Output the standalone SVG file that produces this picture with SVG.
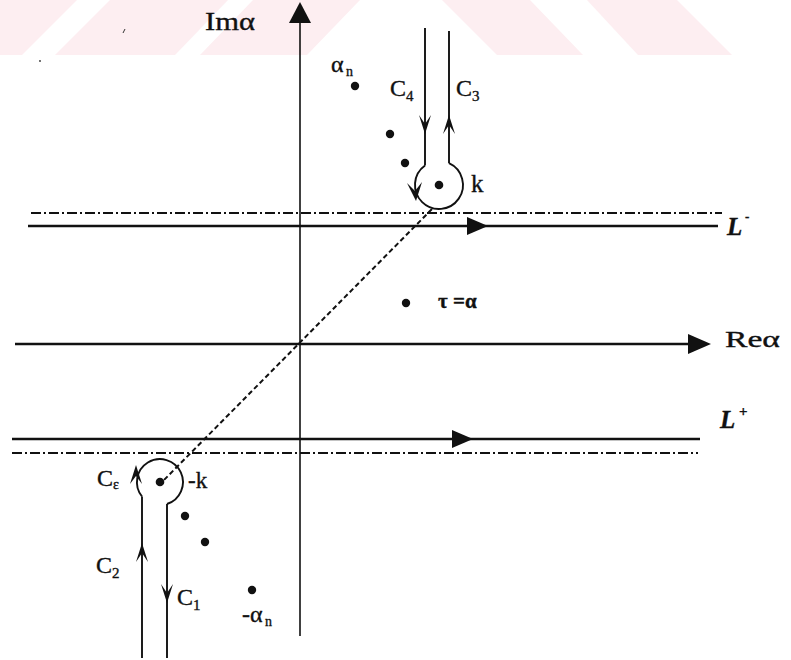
<svg xmlns="http://www.w3.org/2000/svg" width="791" height="660" viewBox="0 0 791 660">
<style>
.t{font-family:"Liberation Serif","Times New Roman",serif;fill:#111;stroke:#111;stroke-width:0.35;}
.ax{stroke:#111;stroke-width:1.6;fill:none;}
.thick{stroke:#111;stroke-width:2.6;fill:none;}
.dd{stroke:#111;stroke-width:2;fill:none;stroke-dasharray:10 3 2 3;}
.dash{stroke:#111;stroke-width:2;fill:none;stroke-dasharray:5 3;}
.c{stroke:#111;stroke-width:1.9;fill:none;}
.ah{fill:#111;stroke:none;}
.pt{fill:#111;}
.wm{fill:#fdeef1;}
</style>
<rect width="791" height="660" fill="#fff"/>
<g id="watermark">
<polygon class="wm" points="0,0 77,0 22,55 0,55"/>
<polygon class="wm" points="110,0 228,0 175,55 55,55"/>
<polygon class="wm" points="253,0 360,0 307,55 200,55"/>
<polygon class="wm" points="442,0 530,0 583,55 497,55"/>
<polygon class="wm" points="587,0 677,0 732,55 638,55"/>
<path d="M123,33 l2,-4" stroke="#333" stroke-width="1"/>
<circle cx="40" cy="61" r="0.9" fill="#333"/>
</g>
<g id="connectors">
<!-- imaginary axis -->
<line class="ax" x1="300" y1="20" x2="300" y2="636"/>
<polygon class="ah" points="300,2 289,23 311,23"/>
<!-- real axis -->
<line class="thick" x1="15" y1="344" x2="692" y2="344"/>
<polygon class="ah" points="711,344 688,334 688,354"/>
<!-- L- -->
<line class="dd" x1="31" y1="213" x2="722" y2="213"/>
<line class="thick" x1="28" y1="226" x2="718" y2="226"/>
<polygon class="ah" points="488,226 467,217 467,235"/>
<!-- L+ -->
<line class="thick" x1="12" y1="439" x2="700" y2="439"/>
<polygon class="ah" points="473,439 452,430 452,448"/>
<line class="dd" x1="12" y1="453" x2="698" y2="453"/>
<!-- dashed line through origin -->
<line class="dash" x1="432" y1="209" x2="162" y2="482"/>
<!-- upper contour C4, C3 around k -->
<line class="c" x1="425" y1="28" x2="425" y2="165.5"/>
<line class="c" x1="449" y1="31" x2="449" y2="163.2"/>
<path class="c" d="M425,165.5 A24,24 0 1 0 449,163.2"/>
<path class="ah" d="M425,134 L419,115 L425,124 L431,115 Z"/>
<path class="ah" d="M449,115 L443,134 L449,125 L455,134 Z"/>
<path class="ah" d="M416,201 L407,183 L415,191 L422,182 Z"/>
<!-- lower contour C2, C1 around -k -->
<line class="c" x1="142" y1="496.5" x2="142" y2="658"/>
<line class="c" x1="167" y1="504" x2="167" y2="658"/>
<path class="c" d="M142,496.5 A23,23 0 1 1 167,504"/>
<path class="ah" d="M142,543 L136,562 L142,553 L148,562 Z"/>
<path class="ah" d="M167,603 L161,584 L167,593 L173,584 Z"/>
<path class="ah" d="M136,465 L130,484 L136,476 L142,484 Z"/>
</g>
<g id="node-axes-labels">
<text class="t" x="205" y="30" font-size="25" textLength="50" lengthAdjust="spacingAndGlyphs">Imα</text>
<text class="t" x="725" y="347" font-size="24" textLength="55" lengthAdjust="spacingAndGlyphs">Reα</text>
</g>
<g id="node-Lminus">
<text class="t" x="727" y="235" font-size="25" font-style="italic" font-weight="bold">L</text>
<text class="t" x="745" y="221" font-size="13" font-weight="bold">-</text>
</g>
<g id="node-Lplus">
<text class="t" x="720" y="428" font-size="25" font-style="italic" font-weight="bold">L</text>
<text class="t" x="739" y="416" font-size="15" font-weight="bold">+</text>
</g>
<g id="node-k">
<circle class="pt" cx="439" cy="185" r="4.3"/>
<text class="t" x="471" y="192" font-size="25">k</text>
</g>
<g id="node-minus-k">
<circle class="pt" cx="160" cy="482" r="4.3"/>
<text class="t" x="188" y="488" font-size="23">-k</text>
</g>
<g id="node-alpha-n">
<circle class="pt" cx="355" cy="86" r="4.2"/>
<text class="t" x="331" y="72" font-size="24">α</text>
<text class="t" x="346" y="76" font-size="14">n</text>
</g>
<g id="node-upper-dots">
<circle class="pt" cx="390" cy="134" r="4.2"/>
<circle class="pt" cx="405" cy="163" r="4.2"/>
</g>
<g id="node-tau">
<circle class="pt" cx="406" cy="303" r="4.2"/>
<text class="t" x="438" y="308" font-size="21" font-weight="bold">τ =α</text>
</g>
<g id="node-lower-dots">
<circle class="pt" cx="185" cy="516" r="4.2"/>
<circle class="pt" cx="205" cy="542" r="4.2"/>
</g>
<g id="node-minus-alpha-n">
<circle class="pt" cx="252" cy="590" r="4.2"/>
<text class="t" x="242" y="622" font-size="24">-α</text>
<text class="t" x="265" y="626" font-size="14">n</text>
</g>
<g id="node-C-labels">
<text class="t" x="390" y="96" font-size="24">C</text><text class="t" x="406" y="101" font-size="15">4</text>
<text class="t" x="456" y="96" font-size="24">C</text><text class="t" x="472" y="101" font-size="15">3</text>
<text class="t" x="97" y="486" font-size="24">C</text><text class="t" x="113" y="489" font-size="14">ε</text>
<text class="t" x="96" y="573" font-size="24">C</text><text class="t" x="112" y="578" font-size="15">2</text>
<text class="t" x="177" y="605" font-size="24">C</text><text class="t" x="193" y="610" font-size="15">1</text>
</g>
</svg>
